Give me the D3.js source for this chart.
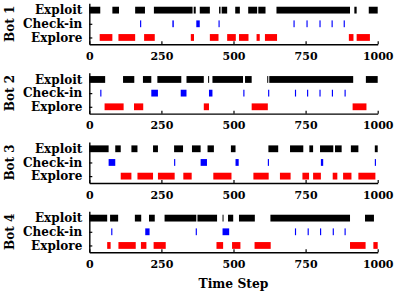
<!DOCTYPE html>
<html>
<head>
<meta charset="utf-8">
<script src="https://cdn.jsdelivr.net/npm/d3@7"></script>
<style>
body{margin:0;background:#fff}
text{font-family:"DejaVu Serif",serif;font-weight:bold;fill:#000}
</style>
</head>
<body>
<div id="chart"></div>
<script>
var width = 399, height = 296;

var bots = ["Bot 1","Bot 2","Bot 3","Bot 4"];
var rows = ["Exploit","Check-in","Explore"];
var xTicks = [0,250,500,750,1000];
var colors = {"Exploit":"#000000","Check-in":"#0000ff","Explore":"#ff0000"};

// [start, end] time steps for each behaviour
var exploit1 = [[0,38],[80,103],[159,193],[224,358],[362,369],[383,418],[450,455],[459,478],[506,522],[551,582],[586,611],[649,904],[919,927],[969,1000]];
var checkin1 = [[176,180],[288,293],[371,383],[448,452],[708,712],[753,757],[798,802],[840,844],[882,886]];
var explore1 = [[36,80],[101,159],[190,227],[352,363],[418,448],[478,508],[519,552],[580,591],[609,651],[900,916],[927,973]];

var exploit2 = [[0,55],[117,156],[186,215],[236,319],[337,397],[412,415],[427,533],[540,563],[617,620],[624,915],[959,1000]];
var checkin2 = [[38,42],[215,238],[317,337],[415,427],[534,538],[620,624],[713,717],[755,759],[798,802],[841,845],[885,889]];
var explore2 = [[53,119],[155,187],[397,415],[563,619],[913,961]];

var exploit3 = [[0,67],[90,109],[146,167],[221,238],[294,325],[356,386],[410,432],[491,507],[621,655],[696,742],[763,776],[800,846],[852,875],[907,933],[990,1000]];
var checkin3 = [[67,90],[294,298],[386,408],[507,518],[619,623],[803,811],[990,994]];
var explore3 = [[109,146],[167,221],[238,296],[326,355],[430,493],[569,622],[661,698],[739,762],[776,803],[844,860],[880,909],[933,992]];

var exploit4 = [[0,62],[72,100],[158,180],[207,227],[261,371],[375,443],[462,465],[481,499],[519,574],[628,904],[956,987]];
var checkin4 = [[76,80],[194,209],[369,373],[462,485],[713,717],[757,761],[800,804],[844,848],[885,889]];
var explore4 = [[62,74],[101,161],[179,198],[223,265],[441,464],[495,524],[573,629],[904,958],[985,1000]];

var botData = [
  {"Exploit":exploit1,"Check-in":checkin1,"Explore":explore1},
  {"Exploit":exploit2,"Check-in":checkin2,"Explore":explore2},
  {"Exploit":exploit3,"Check-in":checkin3,"Explore":explore3},
  {"Exploit":exploit4,"Check-in":checkin4,"Explore":explore4}
];

var panelH = 41;
var panelGap = 69.33;
var firstTop = 3.3;

var svg = d3.select("#chart").append("svg")
  .attr("width", width)
  .attr("height", height);

var x = d3.scaleLinear().domain([0,1000]).range([89.3,377.7]);
var y = d3.scalePoint().domain(rows).range([0,panelH]).padding(0.5);
var barH = 6.8;

bots.forEach(function(name, i){
  var g = svg.append("g")
    .attr("transform", "translate(0," + (firstTop + i*panelGap) + ")");

  // bars
  rows.forEach(function(r){
    g.append("g").selectAll("rect")
      .data(botData[i][r])
      .enter().append("rect")
      .attr("x", function(d){ return x(d[0]); })
      .attr("width", function(d){ return Math.max(x(d[1]) - x(d[0]), 1); })
      .attr("y", y(r) - barH/2)
      .attr("height", barH)
      .attr("fill", colors[r]);
  });

  // x axis
  var xa = g.append("g")
    .attr("transform", "translate(0," + panelH + ")")
    .call(d3.axisBottom(x).tickValues(xTicks).tickFormat(d3.format("d"))
      .tickSizeInner(-3).tickSizeOuter(0).tickPadding(8));
  xa.select(".domain").attr("stroke-width", 1.4);
  xa.selectAll(".tick line").attr("stroke-width", 1.2);
  xa.selectAll("text").attr("font-size", 11).attr("font-family", null);

  // y axis
  var ya = g.append("g")
    .attr("transform", "translate(" + x(0) + ",0)")
    .call(d3.axisLeft(y).tickSizeInner(-3).tickSizeOuter(0).tickPadding(7));
  ya.select(".domain").attr("stroke-width", 1.4);
  ya.selectAll(".tick line").attr("stroke-width", 1.2);
  ya.selectAll("text").attr("font-size", 12).attr("font-family", null);

  // bot label
  g.append("text")
    .attr("transform", "translate(14," + y("Check-in") + ") rotate(-90)")
    .attr("text-anchor", "middle")
    .attr("font-size", 12)
    .text(name);
});

svg.append("text")
  .attr("x", (x(0) + x(1000))/2)
  .attr("y", 287.7)
  .attr("text-anchor", "middle")
  .attr("font-size", 12.3)
  .text("Time Step");
</script>
</body>
</html>
